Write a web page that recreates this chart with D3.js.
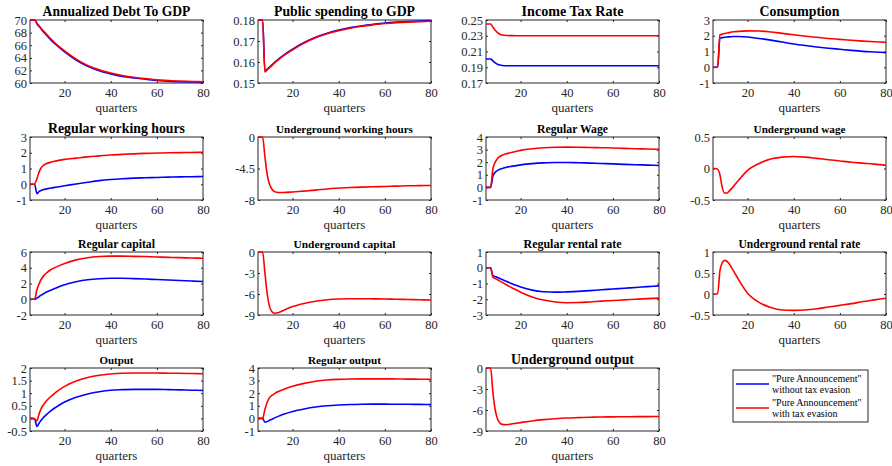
<!DOCTYPE html>
<html>
<head>
<meta charset="utf-8">
<script src="https://cdn.jsdelivr.net/npm/d3@7"></script>
<style>
  body { margin: 0; background: #fff; }
  svg { display: block; }
</style>
</head>
<body>
<svg id="chart" width="892" height="466"></svg>
<script>
const quarters = [5, 6, 7, 8, 9, 10, 11, 12, 14, 16, 20, 25, 30, 35, 40, 45, 50, 55, 60, 65, 70, 75, 80];

// blue = "Pure Announcement" without tax evasion, red = with tax evasion
const debtBlue = [70, 70, 70, 69.4, 68.95, 68.5, 68.05, 67.65, 66.85, 66.15, 64.95, 63.65, 62.65, 61.95, 61.45, 61.05, 60.8, 60.6, 60.4, 60.3, 60.2, 60.15, 60.1];
const debtRed = [70, 70, 70, 69.5, 69.05, 68.6, 68.2, 67.8, 67.0, 66.3, 65.1, 63.8, 62.8, 62.1, 61.6, 61.2, 60.9, 60.7, 60.5, 60.4, 60.3, 60.25, 60.2];

const spendBlue = [.18, .18, .18, .1556, .1566, .1576, .1586, .1596, .1615, .1632, .1661, .1693, .1718, .1737, .1752, .1764, .1773, .1780, .1786, .1790, .1793, .1795, .1797];
const spendRed = [.18, .18, .18, .1553, .1563, .1573, .1583, .1593, .1612, .1629, .1658, .1690, .1715, .1734, .1749, .1761, .1770, .1777, .1783, .1787, .1790, .1792, .1794];

const taxBlue = [.2005, .2005, .2005, .198, .1955, .1938, .1928, .1923, .192, .192, .192, .192, .192, .192, .192, .192, .192, .192, .192, .192, .192, .192, .192];
const taxRed = [.245, .245, .245, .241, .237, .234, .232, .231, .2303, .2301, .230, .230, .230, .230, .230, .230, .230, .230, .230, .230, .230, .230, .230];

const consBlue = [0, 0, 0, 1.85, 1.88, 1.9, 1.92, 1.93, 1.95, 1.95, 1.92, 1.83, 1.72, 1.6, 1.48, 1.38, 1.29, 1.21, 1.14, 1.07, 1.01, 0.97, 0.93];
const consRed = [0, 0, 0, 2.05, 2.1, 2.14, 2.17, 2.2, 2.25, 2.28, 2.31, 2.3, 2.24, 2.15, 2.06, 1.97, 1.9, 1.83, 1.77, 1.71, 1.66, 1.62, 1.58];

const regHoursBlue = [0, 0, 0, -0.6, -0.45, -0.38, -0.33, -0.3, -0.24, -0.19, -0.1, 0.02, 0.13, 0.23, 0.3, 0.35, 0.39, 0.41, 0.43, 0.45, 0.47, 0.48, 0.49];
const regHoursRed = [0, 0, 0.02, 0.35, 0.8, 1.08, 1.22, 1.3, 1.4, 1.47, 1.58, 1.66, 1.74, 1.8, 1.86, 1.9, 1.93, 1.96, 1.98, 2.0, 2.01, 2.02, 2.03];

const ugHoursRed = [0, 0, 0, -2.5, -4.8, -6.0, -6.6, -6.9, -7.05, -7.05, -6.98, -6.87, -6.75, -6.6, -6.48, -6.42, -6.36, -6.32, -6.28, -6.24, -6.2, -6.18, -6.15];

const regWageBlue = [0, 0, 0, 0.9, 1.2, 1.35, 1.44, 1.5, 1.6, 1.67, 1.79, 1.89, 1.95, 1.98, 1.98, 1.96, 1.93, 1.9, 1.87, 1.83, 1.8, 1.77, 1.74];
const regWageRed = [0, 0, 0, 1.5, 2.0, 2.3, 2.45, 2.55, 2.68, 2.77, 2.94, 3.07, 3.15, 3.19, 3.2, 3.19, 3.17, 3.15, 3.13, 3.1, 3.07, 3.05, 3.02];

const ugWageRed = [0, 0, -0.01, -0.1, -0.3, -0.39, -0.39, -0.36, -0.28, -0.19, -0.03, 0.08, 0.15, 0.18, 0.19, 0.18, 0.16, 0.14, 0.12, 0.1, 0.085, 0.07, 0.05];

const regCapBlue = [0, 0, 0, 0.15, 0.35, 0.55, 0.72, 0.88, 1.15, 1.4, 1.85, 2.22, 2.47, 2.6, 2.66, 2.66, 2.62, 2.57, 2.5, 2.44, 2.38, 2.31, 2.25];
const regCapRed = [0, 0, 0, 1.2, 2.0, 2.6, 3.0, 3.3, 3.75, 4.05, 4.55, 5.0, 5.28, 5.42, 5.48, 5.48, 5.45, 5.42, 5.37, 5.32, 5.28, 5.24, 5.2];

const ugCapRed = [0, 0, 0, -3, -6, -7.8, -8.5, -8.75, -8.65, -8.35, -7.8, -7.35, -7.03, -6.83, -6.72, -6.68, -6.67, -6.69, -6.72, -6.75, -6.78, -6.82, -6.85];

const regRentBlue = [0, 0, 0, -0.5, -0.55, -0.62, -0.68, -0.75, -0.88, -1.0, -1.22, -1.42, -1.52, -1.55, -1.53, -1.5, -1.45, -1.4, -1.35, -1.3, -1.25, -1.2, -1.15];
const regRentRed = [0, 0, 0, -0.6, -0.68, -0.76, -0.85, -0.93, -1.1, -1.25, -1.55, -1.85, -2.05, -2.17, -2.22, -2.21, -2.17, -2.12, -2.08, -2.04, -2.0, -1.96, -1.93];

const ugRentRed = [0, 0, 0, 0.55, 0.74, 0.8, 0.78, 0.72, 0.54, 0.35, 0.02, -0.2, -0.32, -0.38, -0.39, -0.38, -0.35, -0.31, -0.27, -0.23, -0.18, -0.14, -0.1];

const outBlue = [0, 0, -0.02, -0.32, -0.18, -0.05, 0.05, 0.14, 0.3, 0.43, 0.65, 0.84, 0.97, 1.06, 1.12, 1.14, 1.15, 1.15, 1.15, 1.14, 1.13, 1.12, 1.11];
const outRed = [0, 0, -0.02, -0.1, 0.2, 0.42, 0.56, 0.68, 0.87, 1.02, 1.27, 1.48, 1.62, 1.71, 1.76, 1.79, 1.8, 1.8, 1.8, 1.79, 1.79, 1.78, 1.77];

const regOutBlue = [0, 0, 0, -0.3, -0.25, -0.15, -0.07, 0.02, 0.18, 0.32, 0.55, 0.75, 0.9, 1.0, 1.06, 1.1, 1.12, 1.13, 1.13, 1.12, 1.12, 1.11, 1.1];
const regOutRed = [0, 0, 0, 0.7, 1.3, 1.65, 1.82, 1.95, 2.15, 2.3, 2.55, 2.78, 2.95, 3.05, 3.1, 3.13, 3.14, 3.14, 3.14, 3.13, 3.12, 3.11, 3.1];

const ugOutRed = [0, 0, 0, -3.5, -6.0, -7.3, -7.85, -8.05, -8.1, -8.0, -7.8, -7.56, -7.38, -7.25, -7.15, -7.09, -7.04, -7.0, -6.98, -6.96, -6.95, -6.94, -6.93];

const xTicks = [20, 40, 60, 80];
const legendLabels = [["\"Pure Announcement\"", "without tax evasion"], ["\"Pure Announcement\"", "with tax evasion"]];

const panels = [
  { title: "Annualized Debt To GDP", y: [60, 70], ticks: [60, 62, 64, 66, 68, 70], blue: debtBlue, red: debtRed },
  { title: "Public spending to GDP", y: [0.15, 0.18], ticks: [0.15, 0.16, 0.17, 0.18], blue: spendBlue, red: spendRed },
  { title: "Income Tax Rate", y: [0.17, 0.25], ticks: [0.17, 0.19, 0.21, 0.23, 0.25], blue: taxBlue, red: taxRed },
  { title: "Consumption", y: [-1, 3], ticks: [-1, 0, 1, 2, 3], blue: consBlue, red: consRed },
  { title: "Regular working hours", y: [-1, 3], ticks: [-1, 0, 1, 2, 3], blue: regHoursBlue, red: regHoursRed },
  { title: "Underground working hours", y: [-8, 0], ticks: [-8, -4, 0], labels: ["-8", "-4.5", "0"], red: ugHoursRed },
  { title: "Regular Wage", y: [-1, 4], ticks: [-1, 0, 1, 2, 3, 4], blue: regWageBlue, red: regWageRed },
  { title: "Underground wage", y: [-0.5, 0.5], ticks: [-0.5, 0, 0.5], red: ugWageRed },
  { title: "Regular capital", y: [-2, 6], ticks: [-2, 0, 2, 4, 6], blue: regCapBlue, red: regCapRed },
  { title: "Underground capital", y: [-9, 0], ticks: [-9, -6, -3, 0], red: ugCapRed },
  { title: "Regular rental rate", y: [-3, 1], ticks: [-3, -2, -1, 0, 1], blue: regRentBlue, red: regRentRed },
  { title: "Underground rental rate", y: [-0.5, 1], ticks: [-0.5, 0, 0.5, 1], red: ugRentRed },
  { title: "Output", y: [-0.5, 2], ticks: [-0.5, 0, 0.5, 1, 1.5, 2], blue: outBlue, red: outRed },
  { title: "Regular output", y: [-1, 4], ticks: [-1, 0, 1, 2, 3, 4], blue: regOutBlue, red: regOutRed },
  { title: "Underground output", y: [-9, 0], ticks: [-9, -6, -3, 0], red: ugOutRed }
];

// layout (px)
const colLeft = [30, 258, 486, 713];
const rowTop = [20, 137, 252, 368];
const pw = 173, ph = 63;
const titleWidths = [148, 141, 102, 80, 137, 137, 71, 92, 77, 102, 98, 122, 34, 73, 123];
const serif = "\"Liberation Serif\", \"Times New Roman\", serif";
const axisColor = "#262626";

const svg = d3.select("#chart");

panels.forEach((p, i) => {
  const row = Math.floor(i / 4), col = i % 4;
  const g = svg.append("g").attr("transform", `translate(${colLeft[col]},${rowTop[row]})`);

  const x = d3.scaleLinear().domain([5, 80]).range([0, pw]);
  const y = d3.scaleLinear().domain(p.y).range([ph, 0]);

  const fmt = p.labels ? (d, k) => p.labels[k] : d => String(d);

  // bottom + left carry labels, top + right only ticks
  const bottom = g.append("g").attr("transform", `translate(0,${ph})`)
    .call(d3.axisBottom(x).tickValues(xTicks).tickSizeInner(-2).tickSizeOuter(0).tickPadding(5).tickFormat(d => d));
  const left = g.append("g")
    .call(d3.axisLeft(y).tickValues(p.ticks).tickSizeInner(-2).tickSizeOuter(0).tickPadding(3).tickFormat(fmt));
  const top = g.append("g")
    .call(d3.axisTop(x).tickValues(xTicks).tickSizeInner(-2).tickSizeOuter(0).tickFormat(""));
  const right = g.append("g").attr("transform", `translate(${pw},0)`)
    .call(d3.axisRight(y).tickValues(p.ticks).tickSizeInner(-2).tickSizeOuter(0).tickFormat(""));

  [bottom, left, top, right].forEach(a => {
    a.attr("font-family", null);
    a.select(".domain").remove();
    a.selectAll(".tick line").attr("stroke", axisColor);
    a.selectAll(".tick text")
      .attr("fill", axisColor)
      .style("font-family", serif)
      .style("font-size", "12.5px");
  });

  g.append("rect")
    .attr("width", pw).attr("height", ph)
    .attr("fill", "none").attr("stroke", axisColor).attr("stroke-width", 1);

  const line = d3.line()
    .x((d, k) => x(quarters[k]))
    .y(d => y(d))
    .curve(d3.curveMonotoneX);

  if (p.blue) {
    g.append("path").attr("d", line(p.blue))
      .attr("fill", "none").attr("stroke", "#0000ff").attr("stroke-width", 1.6);
  }
  g.append("path").attr("d", line(p.red))
    .attr("fill", "none").attr("stroke", "#ff0000").attr("stroke-width", 1.6);

  const t = g.append("text")
    .attr("x", pw / 2).attr("y", -4.5)
    .attr("text-anchor", "middle")
    .style("font-family", serif).style("font-weight", "bold").style("font-size", "13px")
    .attr("fill", "#000")
    .text(p.title);
  const len = t.node().getComputedTextLength();
  if (len > 0) t.style("font-size", (13 * titleWidths[i] / len).toFixed(2) + "px");

  g.append("text")
    .attr("x", pw / 2).attr("y", ph + 29)
    .attr("text-anchor", "middle")
    .style("font-family", serif).style("font-size", "13px")
    .attr("fill", axisColor)
    .text("quarters");
});

// legend
const lg = svg.append("g").attr("transform", "translate(733,370)");
lg.append("rect").attr("width", 135).attr("height", 52)
  .attr("fill", "#fff").attr("stroke", axisColor).attr("stroke-width", 1);
["#0000ff", "#ff0000"].forEach((c, k) => {
  const yy = 14 + k * 24;
  lg.append("line").attr("x1", 3).attr("x2", 36).attr("y1", yy).attr("y2", yy)
    .attr("stroke", c).attr("stroke-width", 1.6);
  legendLabels[k].forEach((s, j) => {
    lg.append("text")
      .attr("x", 39).attr("y", yy - 2 + j * 11)
      .style("font-family", serif).style("font-size", "10px")
      .attr("fill", "#000")
      .text(s);
  });
});
</script>
</body>
</html>
